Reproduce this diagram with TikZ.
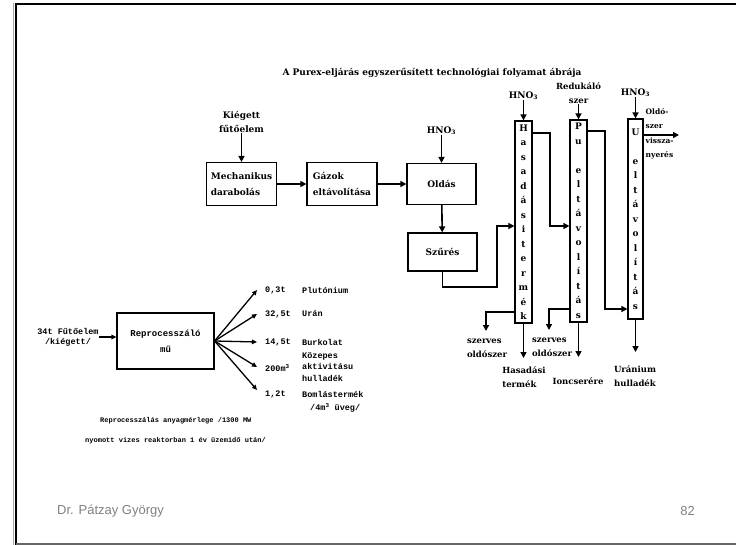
\documentclass[tikz,border=0pt]{standalone}
\usepackage{fontspec}
\setmainfont{DejaVu Serif}
\setmonofont{Liberation Mono}
\newfontfamily\footfont{Liberation Sans}
\usetikzlibrary{arrows.meta}
\begin{document}
\begin{tikzpicture}[x=1pt,y=-1pt,
  box/.style={draw, line width=1.2pt, inner sep=0pt, align=left, font=\bfseries\fontsize{9}{16}\selectfont},
  lbl/.style={font=\bfseries\fontsize{8.5}{14}\selectfont, align=center, inner sep=0pt},
  col/.style={draw, line width=1.2pt, inner sep=0pt, minimum width=17pt, align=center, font=\bfseries\fontsize{9}{14.5}\selectfont},
  flow/.style={line width=1.6pt, -{Triangle[length=6pt,width=6pt]}},
  mono/.style={font=\ttfamily\bfseries\fontsize{8.5}{10}\selectfont, inner sep=0pt, anchor=west},
  fan/.style={line width=1.3pt, -{Triangle[length=5pt,width=4.5pt]}},
  foot/.style={font=\footfont\fontsize{13}{15}\selectfont, text=black!50, inner sep=0pt}
]
\useasboundingbox (0,0) rectangle (736,545);
% frame
\draw[black!35, line width=1pt] (13.3,545) -- (13.3,3.5);
\draw[line width=2pt] (15.5,545) -- (15.5,4.5) -- (736,4.5);
\draw[black!60, line width=1.2pt] (15.5,544) -- (736,544);

% title
\node[font=\bfseries\fontsize{9}{10}\selectfont, inner sep=0pt] (title) at (432,73) {A Purex-eljárás egyszerűsített technológiai folyamat ábrája};

% upper flow
\node[lbl, font=\bfseries\fontsize{9}{14}\selectfont] (kieg) at (241.5,122) {Kiégett\\fűtőelem};
\node[box, minimum width=70pt, minimum height=43pt] (mech) at (241.5,184) {Mechanikus\\darabolás};
\node[box, minimum width=70pt, minimum height=43pt] (gaz) at (342,184) {Gázok\\eltávolítása};
\node[box, minimum width=69pt, minimum height=41pt] (oldas) at (441.5,184) {Oldás};
\node[box, minimum width=69pt, minimum height=38pt] (szures) at (442.5,252) {Szűrés};
\node[lbl, font=\bfseries\fontsize{9}{14}\selectfont] (hno1) at (441.5,131) {HNO\textsubscript{3}};

\draw[flow] (kieg) -- (mech);
\draw[flow] (mech) -- (gaz);
\draw[flow] (gaz) -- (oldas);
\draw[flow] (hno1) -- (oldas);
\draw[flow] (oldas) -- (szures);

% columns
\node[col, minimum height=202pt] (H) at (523.5,222) {H\\a\\s\\a\\d\\á\\s\\i\\t\\e\\r\\m\\é\\k};
\node[col, minimum height=202pt] (P) at (578.5,221) {P\\u\\~\\e\\l\\t\\á\\v\\o\\l\\í\\t\\á\\s};
\node[col, minimum width=15pt, minimum height=200pt] (U) at (635.5,219) {U\\~\\e\\l\\t\\á\\v\\o\\l\\í\\t\\á\\s};

\node[lbl, font=\bfseries\fontsize{9}{14}\selectfont] (hno2) at (523.5,96) {HNO\textsubscript{3}};
\node[lbl] (red) at (578.5,93) {Redukáló\\szer};
\node[lbl, font=\bfseries\fontsize{9}{14}\selectfont] (hno3) at (635.5,93) {HNO\textsubscript{3}};
\draw[flow] (hno2) -- (H);
\draw[flow] (red) -- (P);
\draw[flow] (hno3) -- (U);

% Szűrés -> H
\coordinate (s1) at (497,287);
\coordinate (s2) at (497,226);
\draw[flow] (szures.south) |- (s1) -- (s2) -- (H.west |- s2);
% H -> P
\coordinate (hp1) at (550,133);
\coordinate (hp2) at (550,226);
\draw[flow] (H.east |- hp1) -- (hp1) -- (hp2) -- (P.west |- hp2);
% P -> U
\coordinate (pu1) at (605,131);
\coordinate (pu2) at (605,309);
\draw[flow] (P.east |- pu1) -- (pu1) -- (pu2) -- (U.west |- pu2);
% U -> out
\coordinate (uout) at (679,135);
\draw[flow] (U.east |- uout) -- (uout);
\node[lbl, font=\bfseries\fontsize{7.5}{14.5}\selectfont, align=left, anchor=north west] (old) at (645.5,108) {Oldó-\\szer\\vissza-\\nyerés};

% bottoms
\coordinate (hb1) at (486,312);
\coordinate (hb2) at (486,331);
\draw[flow] (H.west |- hb1) -- (hb1) -- (hb2);
\node[lbl, align=left] (sz1) at (487,348) {szerves\\oldószer};
\coordinate (hbot) at (523.5,358);
\draw[flow] (H.south) -- (hbot);
\node[lbl, align=left] (hast) at (524,377) {Hasadási\\termék};

\coordinate (pb1) at (549,309);
\coordinate (pb2) at (549,330);
\draw[flow] (P.west |- pb1) -- (pb1) -- (pb2);
\node[lbl, align=left] (sz2) at (552,347) {szerves\\oldószer};
\coordinate (pbot) at (578.5,357);
\draw[flow] (P.south) -- (pbot);
\node[lbl] (ion) at (578,381) {Ioncserére};

\coordinate (ubot) at (635.5,352);
\draw[flow] (U.south) -- (ubot);
\node[lbl] (uran) at (635,376) {Uránium\\hulladék};

% lower-left: material balance
\node[mono, anchor=center, align=center] (inp) at (68,337) {34t Fűtőelem\\/kiégett/};
\node[draw, line width=1.2pt, minimum width=97pt, minimum height=56pt, inner sep=0pt, align=center, font=\ttfamily\bfseries\fontsize{9}{16}\selectfont] (rep) at (165.5,341) {Reprocesszáló\\mű};
\draw[fan] (inp.east) -- (rep.west |- inp.east);

\coordinate (f1) at (257,290);
\coordinate (f2) at (257,314);
\coordinate (f3) at (257,342);
\coordinate (f4) at (257,367);
\coordinate (f5) at (257,390);
\foreach \i in {1,...,5} \draw[fan] (rep.east) -- (f\i);

\node[mono] (a1) at (265,290) {0,3t};
\node[mono] (a2) at (265,314) {32,5t};
\node[mono] (a3) at (265,342) {14,5t};
\node[mono] (a4) at (265,368) {200m\textsuperscript{3}};
\node[mono] (a5) at (265,394) {1,2t};
\node[mono] (n1) at (302,290) {Plutónium};
\node[mono] (n2) at (302,314) {Urán};
\node[mono] (n3) at (302,342) {Burkolat};
\node[mono, align=left, font=\ttfamily\bfseries\fontsize{8.5}{11.5}\selectfont] (n4) at (302,367) {Közepes\\aktivitásu\\hulladék};
\node[mono] (n5) at (302,394) {Bomlástermék};
\node[mono] (n6) at (310,408) {/4m\textsuperscript{3} üveg/};

\node[mono, font=\ttfamily\bfseries\fontsize{7}{9}\selectfont] (note1) at (100,421) {Reprocesszálás anyagmérlege /1300 MW};
\node[mono, font=\ttfamily\bfseries\fontsize{7}{9}\selectfont] (note2) at (85,441) {nyomott vizes reaktorban 1 év üzemidő után/};

% footer
\node[foot, anchor=west] (author) at (57,511) {Dr. Pátzay György};
\node[foot, anchor=east] (page) at (695,511) {82};
\end{tikzpicture}
\end{document}
